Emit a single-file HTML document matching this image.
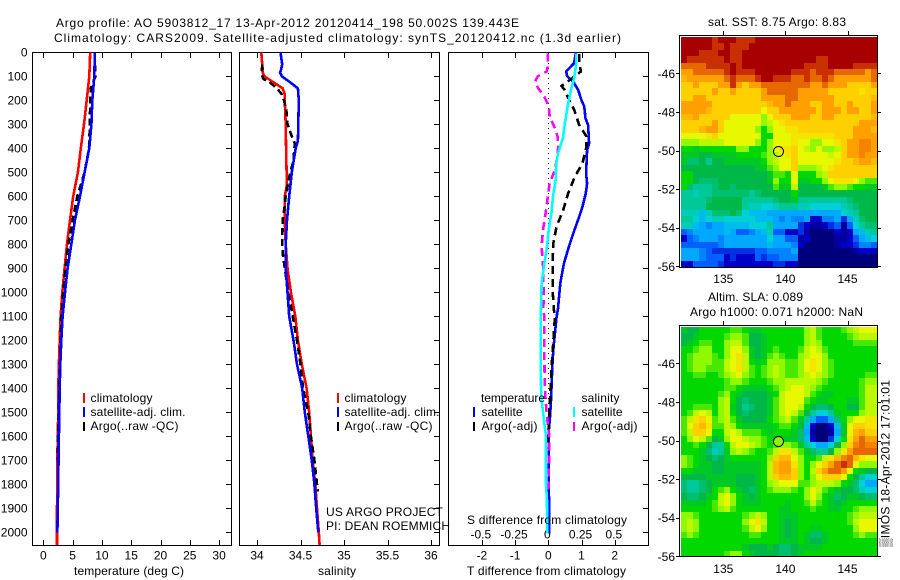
<!DOCTYPE html>
<html lang="en">
<head>
<meta charset="utf-8">
<title>Argo profile chart</title>
<style>
html,body{margin:0;padding:0;background:#fff;}
svg{display:block;}
text{font-family:"Liberation Sans",sans-serif;font-size:12px;fill:#000;}
</style>
</head>
<body>
<svg id="chart" width="900" height="580" viewBox="0 0 900 580" xmlns="http://www.w3.org/2000/svg">
  <rect width="900" height="580" fill="#fff"/>
  <g id="marks"></g>
  <g>
    <text x="56" y="27" textLength="463" lengthAdjust="spacing">Argo profile: AO 5903812_17 13-Apr-2012 20120414_198 50.002S 139.443E</text>
    <text x="54" y="42" textLength="567" lengthAdjust="spacing">Climatology: CARS2009. Satellite-adjusted climatology: synTS_20120412.nc (1.3d earlier)</text>
    <text x="74" y="575" textLength="110" lengthAdjust="spacing">temperature (deg C)</text>
    <text x="318" y="575" textLength="38" lengthAdjust="spacing">salinity</text>
    <text x="467" y="575" textLength="159" lengthAdjust="spacing">T difference from climatology</text>
    <text x="467" y="524" textLength="160" lengthAdjust="spacing">S difference from climatology</text>
    <text x="326" y="516" textLength="117" lengthAdjust="spacing">US ARGO PROJECT</text>
    <text x="326" y="530" textLength="124" lengthAdjust="spacing">PI: DEAN ROEMMICH</text>
    <text x="708" y="26" textLength="138" lengthAdjust="spacing">sat. SST: 8.75 Argo: 8.83</text>
    <text x="708" y="301" textLength="95" lengthAdjust="spacing">Altim. SLA: 0.089</text>
    <text x="690" y="316" textLength="173" lengthAdjust="spacing">Argo h1000: 0.071 h2000: NaN</text>
    <text transform="translate(889.5,547) rotate(-90)" textLength="167" lengthAdjust="spacing">▒IMOS 18-Apr-2012 17:01:01</text>
  </g>
  <g>
    <rect x="83" y="393" width="2" height="10" fill="#f00"/>
    <rect x="83" y="407" width="2" height="10" fill="#00f"/>
    <rect x="83" y="422" width="2" height="9" fill="#000"/>
    <text x="90.5" y="402" textLength="62" lengthAdjust="spacing">climatology</text>
    <text x="90.5" y="416" textLength="95" lengthAdjust="spacing">satellite-adj. clim.</text>
    <text x="90.5" y="430" textLength="88" lengthAdjust="spacing">Argo(..raw -QC)</text>
  </g>
  <g>
    <rect x="337" y="393" width="2" height="10" fill="#f00"/>
    <rect x="337" y="407" width="2" height="10" fill="#00f"/>
    <rect x="337" y="422" width="2" height="9" fill="#000"/>
    <text x="344.5" y="402" textLength="62" lengthAdjust="spacing">climatology</text>
    <text x="344.5" y="416" textLength="95" lengthAdjust="spacing">satellite-adj. clim.</text>
    <text x="344.5" y="430" textLength="88" lengthAdjust="spacing">Argo(..raw -QC)</text>
  </g>
  <g>
    <text x="481" y="402" textLength="64" lengthAdjust="spacing">temperature</text>
    <text x="481.5" y="416" textLength="41" lengthAdjust="spacing">satellite</text>
    <text x="481.5" y="430" textLength="56" lengthAdjust="spacing">Argo(-adj)</text>
    <rect x="473" y="407" width="2" height="10" fill="#00f"/>
    <rect x="473" y="422" width="2" height="9" fill="#000"/>
    <text x="581.5" y="402" textLength="38" lengthAdjust="spacing">salinity</text>
    <text x="581.5" y="416" textLength="41" lengthAdjust="spacing">satellite</text>
    <text x="581.5" y="430" textLength="56" lengthAdjust="spacing">Argo(-adj)</text>
    <rect x="573" y="407" width="2" height="10" fill="#0ff"/>
    <rect x="573" y="422" width="2" height="9" fill="#f0f"/>
  </g>
</svg>
<script>
// ---------- axis tick data ----------
const depthTicks = [0,100,200,300,400,500,600,700,800,900,1000,1100,1200,1300,1400,1500,1600,1700,1800,1900,2000];
const tempTicks = [0,5,10,15,20,25,30];
const salinityTicks = [34,34.5,35,35.5,36];
const tDiffTicks = [-2,-1,0,1,2];
const sDiffTicks = [-0.5,-0.25,0,0.25,0.5];
const sDiffTickLabels = ['-0.5','-0.25','0','0.25','0.5'];
const mapLonTicks = [135,140,145];
const mapLatTicks = [46,48,50,52,54,56];

// ---------- temperature profiles ----------
const tempClimDepth = [0,100,200,300,400,500,600,700,800,900,1000,1100,1200,1300,1400,1500,1600,1700,1800,1900,2000,2052];
const tempClimValues = [8.0,7.85,7.4,6.95,6.4,5.9,5.1,4.55,4.04,3.64,3.24,2.96,2.8,2.67,2.56,2.56,2.45,2.4,2.4,2.33,2.33,2.33];
const tempSatDepth = [0,100,200,300,400,500,600,700,800,900,1000,1100,1200,1300,1400,1500,1600,1700,1800,1900,2000];
const tempSatValues = [8.8,8.7,8.36,8.2,7.85,7.05,6.26,5.4,4.78,4.15,3.7,3.3,3.07,2.9,2.8,2.73,2.67,2.6,2.56,2.45,2.4];
const tempArgoDepth = [5,50,100,150,200,300,400,500,600,700,800,900,1000,1100,1200,1300,1400,1500,1600,1700];
const tempArgoValues = [8.75,8.8,8.9,8.1,8.0,7.96,7.8,7.05,5.8,5.0,4.27,3.8,3.4,3.1,2.95,2.85,2.72,2.65,2.5,2.45];

// ---------- salinity profiles ----------
const salClimDepth = [0,50,90,100,125,150,175,200,300,400,500,550,600,700,800,900,1000,1100,1200,1300,1400,1500,1600,1700,1800,1900,2000,2052];
const salClimValues = [34.05,34.06,34.07,34.085,34.19,34.295,34.32,34.32,34.33,34.335,34.34,34.345,34.32,34.32,34.33,34.35,34.39,34.44,34.47,34.515,34.57,34.6,34.62,34.64,34.67,34.69,34.71,34.72];
const salSatDepth = [0,50,75,85,100,125,150,200,300,370,400,500,600,700,800,900,1000,1100,1200,1300,1400,1500,1600,1700,1800,1900,2000];
const salSatValues = [34.27,34.29,34.275,34.265,34.285,34.38,34.47,34.48,34.475,34.47,34.445,34.4,34.37,34.345,34.33,34.33,34.35,34.37,34.42,34.46,34.52,34.55,34.59,34.63,34.66,34.68,34.705];
const salArgoDepth = [50,90,110,125,150,175,200,250,300,350,380,450,520,600,650,700,800,850,900,1000,1100,1200,1300,1400,1500,1600,1700,1800,1830];
const salArgoValues = [34.06,34.055,34.07,34.145,34.23,34.285,34.31,34.34,34.35,34.4,34.435,34.42,34.37,34.33,34.315,34.295,34.29,34.3,34.32,34.36,34.41,34.46,34.5,34.53,34.59,34.62,34.66,34.69,34.7];

// ---------- difference profiles ----------
const tDiffSatDepth = [0,25,46,80,100,122,157,200,225,275,303,380,407,504,546,587,643,685,740,810,880,962,1073,1101,1171,1240,1310,1449,1519,1588,1727,1866,2005];
const tDiffSatValues = [0.83,0.8,0.77,0.54,0.57,0.75,0.9,1.0,1.08,1.12,1.2,1.23,1.17,1.14,1.17,1.13,1.03,0.93,0.79,0.62,0.47,0.36,0.29,0.25,0.2,0.15,0.12,0.08,0.05,0.01,0.01,0.02,0.03];
const tDiffArgoDepth = [7,46,80,100,140,157,200,240,303,351,393,462,518,587,657,726,796,880,990,1073,1101,1171,1310,1449,1588,1650];
const tDiffArgoValues = [0.93,0.94,0.98,0.8,0.4,0.49,0.63,0.78,0.93,1.15,1.15,1.03,0.8,0.6,0.45,0.25,0.15,0.13,0.13,0.17,0.2,0.17,0.1,0.05,0,-0.03];
const sDiffSatDepth = [4,46,88,115,157,226,296,358,421,462,532,601,671,740,810,880,962,1032,1101,1240,1380,1449,1519,1588,1727,1797,1866,2005];
const sDiffSatValues = [0.21,0.21,0.2,0.19,0.17,0.145,0.125,0.11,0.073,0.06,0.055,0.035,0.023,0.003,-0.01,-0.03,-0.05,-0.053,-0.057,-0.057,-0.055,-0.05,-0.035,-0.02,-0.017,-0.018,-0.01,-0.008];
const sDiffArgoDepth = [4,60,80,100,122,150,185,226,268,310,351,386,428,490,546,615,671,740,810,880,990,1073,1101,1240,1380,1449,1519,1588,1727,1838];
const sDiffArgoValues = [-0.005,-0.005,-0.012,-0.08,-0.1,-0.075,-0.03,0.005,0.01,0.045,0.07,0.075,0.07,0.05,0.01,-0.007,-0.02,-0.04,-0.05,-0.04,-0.035,-0.037,-0.03,-0.03,-0.027,-0.02,-0.01,0.005,0.005,0];

// ---------- map grids (colour scale level 0=navy ... 14=dark red) ----------
const colorLevels = ['#00007a','#0000c8','#0060ff','#00a8ff','#00d0d8','#00c898','#00b848','#00d800','#90f800','#e8f800','#ffd000','#ffa000','#e86800','#c83000','#a80000'];
const sstValues = [
[14,14,14,14,14,13,14,14,14,13,13,13,14,14,14,14,14,14,14,14,14,14,14,14,14,14,14,14,14,14,14,14],
[14,14,14,14,14,13,13,14,13,13,13,14,14,14,14,14,14,14,14,14,14,14,14,14,14,14,14,14,14,14,14,14],
[14,14,14,13,13,13,14,14,13,13,14,14,14,14,14,14,14,14,14,14,14,14,14,14,14,14,14,14,14,14,14,14],
[14,13,13,13,13,13,13,14,13,13,14,14,14,14,14,14,14,14,14,14,14,14,13,13,14,14,14,14,14,14,14,14],
[12,12,12,12,13,13,13,13,14,13,14,14,14,14,14,14,14,14,14,14,13,13,13,13,14,14,14,14,13,13,13,13],
[11,11,12,12,12,12,12,13,14,13,13,13,14,14,14,14,14,14,13,13,13,12,13,13,13,12,12,12,12,12,11,12],
[10.5,11,11,11,11,11,11,12,13,12,12,12,13,14,14,13,13,13,12,12,13,12,12,13,12,11,11,11,11,11,11,12],
[10,10,11,10,10,10,11,11,13,11,10,11,11,12,12,12,12,12,12,12,12,11,11,12,11,11,11,10,10,10,10,11],
[10,10,10,10,10,11,10,10,11,10,10,10,10,11,12,12,12,12,12,11,11,11,11,11,10,10,10,10,10,9.5,10,10],
[10,10,11,11,10,10,10,10,10,10,10,10,10,11,11,11,11,12,12,11,11,11,11,11,11,10,10,10,10,10,10,10.5],
[11,11,11,11,11,10,10,10,10,10,10,10,10,10,10.5,11,11,12,11,11,11,10,10,11,11,10,10,11,10,10,10,11],
[11,11,11,11,10.5,10,10,10,10,10,10,10,10,9,10,10,11,11,11,11,11,11,10,11,11,11,10,11,11,10,10,11],
[10.5,10.5,11,10,10,10,10,10,9,9,9,9,9,8,9,10,10,10,11,11,11,10,10,11,11,10,10,10,10,10,10,10.5],
[10,10,10,10,10,11,10,9,9,9,9,9,9,8,8.5,9,9.5,10,10,10,10,10,10,10,10,10,10,10,10,11,11,11],
[10,10,10,10.5,11,11,10,9,9,9,9,9,8,7,8,9,9,9.5,9.5,10,10,10,10,10,10,10,10,10,11,11,11,10.5],
[9,9,9,9,9.5,10,9,9,9,9,9,9,9,7,7,9,9,9,9.5,9.5,9.5,9.5,9.5,9.5,9.5,10,10,10,11,11,11,11],
[8,8,8,8.5,8.5,8.5,8.5,9,9,9,9,9,8,7,8,9,9,9,9.5,9,9,8,8,9,9,9.5,10,11,11,11.5,11.5,11],
[7,7,6.5,7,7,7,7,7,7,8,8,7,7,7,8,9,9.5,9.5,10,9,8.5,8,9,8,8,8.5,10,11,11,11.5,11.5,11],
[6.5,6.5,6.5,6,6,6.5,6.5,6.5,6.5,7,7,7,7,7.5,8,8.5,9,9.5,10,9,9,9,9,9,8.5,9,10,11,11,11.5,11,11],
[6.5,5.5,5.5,6,5,6,6,6.5,6.5,6.5,6.5,6.5,6.5,7,8,8.5,9,9,10,9,9,9,9,9,9,9.5,10,10,10.5,11,11,10.5],
[6,6,6,6,6,6,6,6,6,6,6,6,6.5,6.5,7.5,8,9,9,10,8,8,8,8.5,9,9.5,10,10,10,10,10,10,10],
[7,7,6,6,6,6,6,6,6,6,6,6,6,6,6.5,7.5,7.5,7,9,7,7,7,8,8.5,10,10,10,10,10,10,10,10],
[7,7,6,5.5,5.5,5.5,6,6,6,6,6,6,6,6,6.5,8,7,7,9,6.5,6.5,7,7,8,9,9.5,9.5,9.5,9,8,7.5,7.5],
[7,5.5,5,5,5,5.5,6,6,5.5,6,6,6,6,6,6,7.5,6.5,6.5,8.5,6,6,6,6,6.5,7.5,8,8,7.5,7,7,6.5,6.5],
[5,5,4.5,5,5,5.5,5.5,5.5,5.5,5.5,5.5,5,5.5,6,6,6,6,6,7,6,6,6,6,6,6,6,6,6,6,6,6,6],
[5,5,5,5,5.5,6,6,6,6,6,5,5,5,5,5,5.5,6,6,6.5,5,5,5,5,5,5,5,5,5.5,6,6,6,6],
[5,5,5,5,6,6,6,6,6,6,5,4.5,4.5,4,4,4.5,5,5,5,4.5,4.5,4,4,4,4,4,4.5,5,5.5,6,6,6],
[4.5,4.5,4.5,3.5,4.5,5.5,5.5,5.5,6,5.5,4,3.5,3.5,3.5,3,3,3,3,3,3,3,3,3,3,3,3,4,4.5,5,6,6,6],
[5,5,4,3.5,4,4.5,4.5,4,4,4,4,4,3.5,3.5,3.5,3,2.5,3,2.5,2.5,3,1,1,2.5,2.5,3,1.5,3,4.5,5.5,6,6],
[4.5,4.5,3.5,3,2.5,3,3,3.5,3.5,3.5,3.5,4,4,4,5,3,3,3,3,1.5,1,0.5,0.5,1,1.5,2,0.5,2,4,5,5.5,5.5],
[2,2.5,3,3,3,3,3,3.5,3,2,2,2.5,3,3.5,4.5,2,2,1,1,1.5,0.5,0,0,0,0,1,0.5,1,3,3.5,4.5,5],
[1,2,2.5,3,3,3,2.5,3,3,3,3,3,3,3,4,3,3,2,2,0.5,1,0,0,0,0,0.5,0.5,1,2,3,3.5,4],
[2,2,2,2,2,2,2.5,3,3,3,3,3,3,3,3.5,3,3,3,2.5,1,0,0,0,0,0,0.5,1,1,1.5,2.5,2.5,2],
[3,3,3,2.5,2,1.5,1.5,1.5,1.5,1.5,1.5,1.5,2,2,2.5,2.5,2.5,2.5,3,0,0,0,0,0,0,0,0,0,0.5,1,1,1],
[3,3,3,2.5,2,2,2,1,1.5,1,1,1,2,1.5,2,2,2.5,2.5,2.5,0,0,0,0,0,0,0,0,0,0,0,0,0],
[1,1,2,2,2,2,1.5,1,1,1,1,1,1,1,1,1.5,1.5,1,1,0,0,0,0,0,0,0,0,0,0,0,0,0]
];
const slaValues = [
[6.5,6,6,7,7,7,7,7,7.5,7.5,7,6.5,6.5,7,7,7,7,7,7,7,8,8.5,7.5,7,7,7,7.5,8,8.5,9,9,9],
[6,6,6.5,7,7,7,7,7.5,8,8,7.5,6,6,6.5,7,7,7,7,7,7,8,8.5,7.5,7,7,7,7,7.5,8,8.5,8.5,8.5],
[6,6.5,7,7.5,7.5,7,7,8,8.5,8.5,7.5,6,6,6.5,7,7,7,7,7,7,8,8.5,8,7,7,7,7,7,7.5,7.5,7.5,7.5],
[7,7,7.5,8,8,7,7,8,9,9,8,6.5,6,6.5,7,7.5,7,7,7,7.5,8.5,9,8.5,7.5,7,7,7,7,7,7,7,7],
[7,7.5,8,8,8,7.5,7,8,9,9.5,8.5,6.5,6,6.5,7.5,8,7.5,7,7,8,8.5,9,9,8,7,7,7,7,7,7,7,7],
[7,7.5,8,8,8,7.5,7.5,8.5,9,9.5,8.5,7,6.5,7,8,8,8,7.5,7.5,8,9,9.5,9,8,7.5,7,7,7,7,7,7,7],
[7,7.5,8,8,7.5,7.5,7.5,8.5,9,9.5,8.5,7.5,7,7.5,8,8.5,8,7.5,7.5,8,9,9.5,9,8,7.5,7,7,7,7,7,7,7],
[7,7,7.5,7.5,7,7,7.5,8,8.5,9,8,7.5,7,7.5,8,8.5,8,7.5,7.5,8,8.5,9,8.5,8,7.5,7,7,7,7,7,7.5,7.5],
[7,7,7,7,7,7,7,7.5,8,8,7.5,7,7,7,7.5,8,8,8.5,8.5,8.5,8.5,8.5,8,7.5,7,7,7,7,7,7.5,8,8],
[7,7,7,7,7,7,7,7.5,7.5,7,6.5,6.5,6.5,6.5,7,7.5,8,8.5,9,9,8.5,8,7.5,7,7,7,7,7,7,7.5,8.5,8.5],
[7,7,7,7,7,7,7.5,8,7,6.5,6,6,6,6,6.5,7,8.5,9,9,9,8.5,7.5,7,6.5,6.5,7,7,7,7,7.5,8.5,8.5],
[7,7,7,7,7,7,8,8.5,7,6,5.5,6,6,6,6.5,7.5,8.5,9,9,9,7.5,7,6.5,6.5,7,7,7,6.5,6.5,7.5,8.5,8.5],
[7,7,7.5,7.5,7.5,7,8,8.5,6.5,6,5,5.5,6,6,6.5,7.5,8.5,9,9,8.5,7,6,5.5,5.5,6,7,7,6,6,7.5,8.5,8.5],
[7,7.5,8.5,9,8.5,7,8,8.5,7,6,5.5,6,6,6,6.5,7.5,8.5,9,8.5,7.5,6,5,4,4,5,6.5,7,7,7,8,8.5,8.5],
[7.5,8.5,9.5,10,9,7.5,8,8.5,7.5,6.5,6,6,6,6,7,7.5,8,8.5,7.5,6.5,5,3,2,2,3,5.5,7,8,9,9,9.5,9.5],
[7.5,9,10,10.5,9.5,7.5,7.5,8.5,8,7,6.5,6.5,6.5,6.5,6.5,7,7.5,7.5,7,6,3.5,1,0,0,1,3.5,6.5,9,10,10,9.5,9.5],
[7.5,8.5,10,10,9,7,7,8.5,9,8.5,7.5,7.5,7.5,7,6.5,7,7,7,6.5,5.5,3,0.5,0,0,0.5,3,6.5,9,10.5,11,10,10],
[7,8,9,8.5,7.5,6,6.5,8,9,9,8.5,8,8,7.5,7,6.5,6.5,6.5,6.5,5.5,3.5,1,0,0,1.5,4,7,9.5,11,12,11,11],
[7,7,7.5,7,6,5,5,7,8.5,9,9,8.5,8,7.5,7,7.5,8,8,7.5,6.5,5,4,3,3,4,6,8,10,11.5,12,11.5,11.5],
[7,7,7,6.5,5.5,4.5,5,6.5,8,8.5,8,7.5,7,7,7.5,8.5,9.5,9.5,8.5,7.5,6.5,5.5,5,5,6,8,9.5,11,12,12,12,12],
[8,7.5,7,6.5,6,5.5,6,6.5,7,7,7,7,7,7,8,10,10.5,10.5,9,8,7,7,7.5,8.5,9.5,10.5,11.5,12,10.5,9.5,9,9],
[8,7.5,7,6.5,6.5,6,6,6.5,6.5,6.5,6.5,6.5,6.5,7,8.5,10.5,11,11,9.5,8,7,8,9,10,11,12,13,12,9,8,8,8],
[7,7,6.5,6.5,6.5,6,6,6.5,6.5,6.5,6.5,6.5,6.5,7,8.5,10.5,11,11,10,8,7,8.5,10,11,12,12,11,9,7,6.5,6,6],
[6,6,6,6,6.5,6.5,6.5,6.5,6.5,6,6,6,6.5,7,8.5,10,10.5,10.5,10,8,7,8,9,10,10,10,9,7,6,5,4,4],
[5.5,5,5,5.5,6,6.5,6.5,6.5,6.5,6,6,6,6.5,7,8,8.5,9,9,9,7.5,7.5,8,8.5,8.5,8.5,8,7,6.5,5.5,4,3,3],
[5.5,5,5,5.5,6,7,7.5,8,7,6.5,6,5.5,6.5,7,7.5,8,8,8,7.5,7,8,9,8.5,7.5,7,6.5,6,6,5.5,4.5,4,4],
[6,5.5,5.5,6,6.5,7,8.5,9,8,7,6.5,6,6.5,7,7,7,7,7,7,7,8,9,8,7,6.5,5.5,6,6.5,6.5,6,5.5,5.5],
[6.5,6.5,6.5,6.5,7,7.5,8.5,9,8,7,6.5,6.5,6.5,7,7,7,7,6.5,7,7,7.5,8.5,7.5,7,6.5,6,6.5,7,7,7,7,7],
[7,7,7,7,7,7.5,8,8.5,7.5,7,7,7,7,7,7,7,6.5,6.5,7,7,7,7.5,7,7,6.5,6.5,7,7,7.5,8,8,8],
[8,8,7.5,7,7,7,7,7,7,7,7.5,8,8.5,8,7,7,6.5,6.5,6.5,7,7,7,7,7,7,7,7,7.5,8,8.5,8.5,8.5],
[8,8.5,8,7,7,7,7,7,7,7,8,9,9.5,8.5,7,7,6.5,6,6.5,7,7,7,7,7,7,7,7,7.5,8.5,9,9,9],
[8,8.5,8,7,7,7,7,7,7,7,7.5,8.5,9,8,7,7,6.5,6,6.5,7,7,6.5,6.5,7,7,7,7,7,8,9,9,9],
[7.5,8,7.5,7,7,7,7,7,7,7,7,7.5,7.5,7,7,7,6.5,6,6.5,7,6.5,5.5,5.5,6.5,7,7,7,7,7.5,8,7.5,7.5],
[7,7,7,7,7,7,7,7,7,7,7,7,7,7,7,7,6.5,6.5,6.5,7,6.5,6,6,6.5,7,7,7,7,7,7,7,7],
[7,7,7,7,7,7,7,7,7,7,6.5,6,6,6,6.5,6,5.5,5.5,6,6.5,6.5,6.5,6.5,7,7,7,7,7,7,7,7,7],
[7,7,7,7,7,7,7,7.5,8,8,7,6.5,6,6,6,6,5.5,5.5,6,6.5,7,7,7,7,7,7,7,7,7,7,7,7]
];
const argoLon = [139.443];
const argoLat = [50.002];
const argoSlaLevel = [8];

// ---------- axis functions ----------
const SVGNS = 'http://www.w3.org/2000/svg';
const root = document.getElementById('marks');
const depthToY = d => 52.3 + 0.24 * d;
const tempToX = t => 43.3 + 5.86 * t;
const salToX = s => 257 + 87 * (s - 34);
const tDiffToX = t => 548.3 + 33.2 * t;
const sDiffToX = s => 548.3 + 133 * s;
const lonToX = lon => 723.3 + 12.42 * (lon - 135);
const sstLatToY = lat => 73.3 + 19.3 * (lat - 46);
const slaLatToY = lat => 363.3 + 19.3 * (lat - 46);
const LON_START = 131.6, LON_STEP = 15.8 / 32;
const LAT_START = 44.12, LAT_STEP = 11.92 / 36;

function make(tag, attrs, parent, name, interactable) {
  const el = document.createElementNS(SVGNS, tag);
  for (const k in attrs) el.setAttribute(k, attrs[k]);
  
  
  (parent || root).appendChild(el);
  return el;
}
function label(parent, name, str, x, y, anchor) {
  const el = make('text', {x: x, y: y, 'text-anchor': anchor}, parent, name, false);
  el.textContent = str;
  return el;
}
function hexToRgb(h) {
  return [parseInt(h.slice(1,3),16), parseInt(h.slice(3,5),16), parseInt(h.slice(5,7),16)];
}
function levelColor(v) {
  const c = Math.max(0, Math.min(colorLevels.length - 1, v));
  const a = Math.floor(c), b = Math.min(colorLevels.length - 1, a + 1), f = c - a;
  const A = hexToRgb(colorLevels[a]), B = hexToRgb(colorLevels[b]);
  return 'rgb(' + A.map((q, i) => Math.round(q + (B[i] - q) * f)).join(',') + ')';
}
function line(parent, name, x1, y1, x2, y2, extra) {
  return make('line', Object.assign({x1: x1, y1: y1, x2: x2, y2: y2, stroke: '#000', 'stroke-width': 1, 'shape-rendering': 'crispEdges'}, extra || {}), parent, name, false);
}
function profile(parent, name, depth, values, toX, color, width, dash) {
  const pts = values.map((v, i) => toX(v).toFixed(1) + ',' + depthToY(depth[i]).toFixed(1)).join(' ');
  const attrs = {points: pts, fill: 'none', stroke: color, 'stroke-width': width, 'shape-rendering': 'crispEdges'};
  if (dash) attrs['stroke-dasharray'] = dash;
  return make('polyline', attrs, parent, name, false);
}
function panel(name, left, right, xTicks, toX, xLabels) {
  const g = make('g', {}, root, name, false);
  make('rect', {x: left + 0.5, y: 52.5, width: right - left, height: 493, fill: 'none', stroke: '#000', 'stroke-width': 1, 'shape-rendering': 'crispEdges'}, g, name + '-frame', false);
  xTicks.forEach((t, i) => {
    const x = Math.round(toX(t)) + 0.5;
    line(g, name + '-top-tick', x, 53, x, 58);
    line(g, name + '-bottom-tick', x, 540, x, 545);
    label(g, name + '-x-tick-label', xLabels ? xLabels[i] : String(t), toX(t), 559.5, 'middle');
  });
  depthTicks.forEach(d => {
    const y = Math.round(depthToY(d)) + 0.5;
    line(g, name + '-right-tick', right - 5, y, right, y);
  });
  return g;
}

// ---------- profile panels ----------
const tempPanel = panel('temperature-panel', 32, 231, tempTicks, tempToX);
depthTicks.forEach(d => {
  label(tempPanel, 'depth-tick-label', String(d), 27.5, depthToY(d) + 4, 'end');
});
profile(tempPanel, 'temperature-climatology-line', tempClimDepth, tempClimValues, tempToX, '#f00', 2.6);
profile(tempPanel, 'temperature-argo-line', tempArgoDepth, tempArgoValues, tempToX, '#000', 2.6, '7 4');
profile(tempPanel, 'temperature-satellite-line', tempSatDepth, tempSatValues, tempToX, '#00f', 2.6);

const salPanel = panel('salinity-panel', 239, 439, salinityTicks, salToX);
profile(salPanel, 'salinity-climatology-line', salClimDepth, salClimValues, salToX, '#f00', 2.6);
profile(salPanel, 'salinity-argo-line', salArgoDepth, salArgoValues, salToX, '#000', 2.6, '7 4');
profile(salPanel, 'salinity-satellite-line', salSatDepth, salSatValues, salToX, '#00f', 2.6);

const diffPanel = panel('difference-panel', 448, 648, tDiffTicks, tDiffToX);
sDiffTicks.forEach((s, i) => {
  label(diffPanel, 's-diff-tick-label', sDiffTickLabels[i], sDiffToX(s) - 1, 538.5, 'middle');
});
line(diffPanel, 'zero-reference-line', 548.5, 53, 548.5, 440, {'stroke-dasharray': '1 4'});
profile(diffPanel, 't-diff-satellite-line', tDiffSatDepth, tDiffSatValues, tDiffToX, '#00f', 2.6);
profile(diffPanel, 't-diff-argo-line', tDiffArgoDepth, tDiffArgoValues, tDiffToX, '#000', 2.6, '8 5');
profile(diffPanel, 's-diff-argo-line', sDiffArgoDepth, sDiffArgoValues, sDiffToX, '#f0f', 2.6, '8 5');
profile(diffPanel, 's-diff-satellite-line', sDiffSatDepth, sDiffSatValues, sDiffToX, '#0ff', 2.6);

// ---------- maps ----------
function mapPanel(name, grid, latToY, top, bottom, xLabelY) {
  const g = make('g', {}, root, name, false);
  grid.forEach((row, r) => {
    row.forEach((v, c) => {
      const x0 = Math.round(lonToX(LON_START + c * LON_STEP));
      const x1 = Math.round(lonToX(LON_START + (c + 1) * LON_STEP));
      const y0 = Math.round(latToY(LAT_START + r * LAT_STEP));
      const y1 = Math.round(latToY(LAT_START + (r + 1) * LAT_STEP));
      make('rect', {x: x0, y: y0, width: x1 - x0, height: y1 - y0, fill: levelColor(v), 'shape-rendering': 'crispEdges'}, g, name + '-cell', false);
    });
  });
  make('rect', {x: 679.5, y: top + 0.5, width: 198, height: bottom - top, fill: 'none', stroke: '#000', 'stroke-width': 1, 'shape-rendering': 'crispEdges'}, g, name + '-frame', false);
  mapLonTicks.forEach(lon => {
    const x = Math.round(lonToX(lon)) + 0.5;
    line(g, name + '-top-tick', x, top - 4, x, top);
    label(g, name + '-lon-label', String(lon), lonToX(lon), xLabelY, 'middle');
  });
  mapLatTicks.forEach(lat => {
    const y = Math.round(latToY(lat)) + 0.5;
    line(g, name + '-left-tick', 676, y, 679, y);
    line(g, name + '-right-tick', 878, y, 881, y);
    label(g, name + '-lat-label', '-' + lat, 675, latToY(lat) + 4.5, 'end');
  });
  return g;
}
const sstMap = mapPanel('sst-map', sstValues, sstLatToY, 35, 267, 283);
make('circle', {cx: lonToX(argoLon[0]), cy: sstLatToY(argoLat[0]) + 1, r: 5, fill: 'none', stroke: '#000', 'stroke-width': 1}, sstMap, 'sst-argo-marker', false);
const slaMap = mapPanel('sla-map', slaValues, slaLatToY, 325, 556, 573);
make('circle', {cx: lonToX(argoLon[0]), cy: slaLatToY(argoLat[0]) + 1, r: 5, fill: levelColor(argoSlaLevel[0]), stroke: '#000', 'stroke-width': 1}, slaMap, 'sla-argo-marker', false);
</script>
</body>
</html>
